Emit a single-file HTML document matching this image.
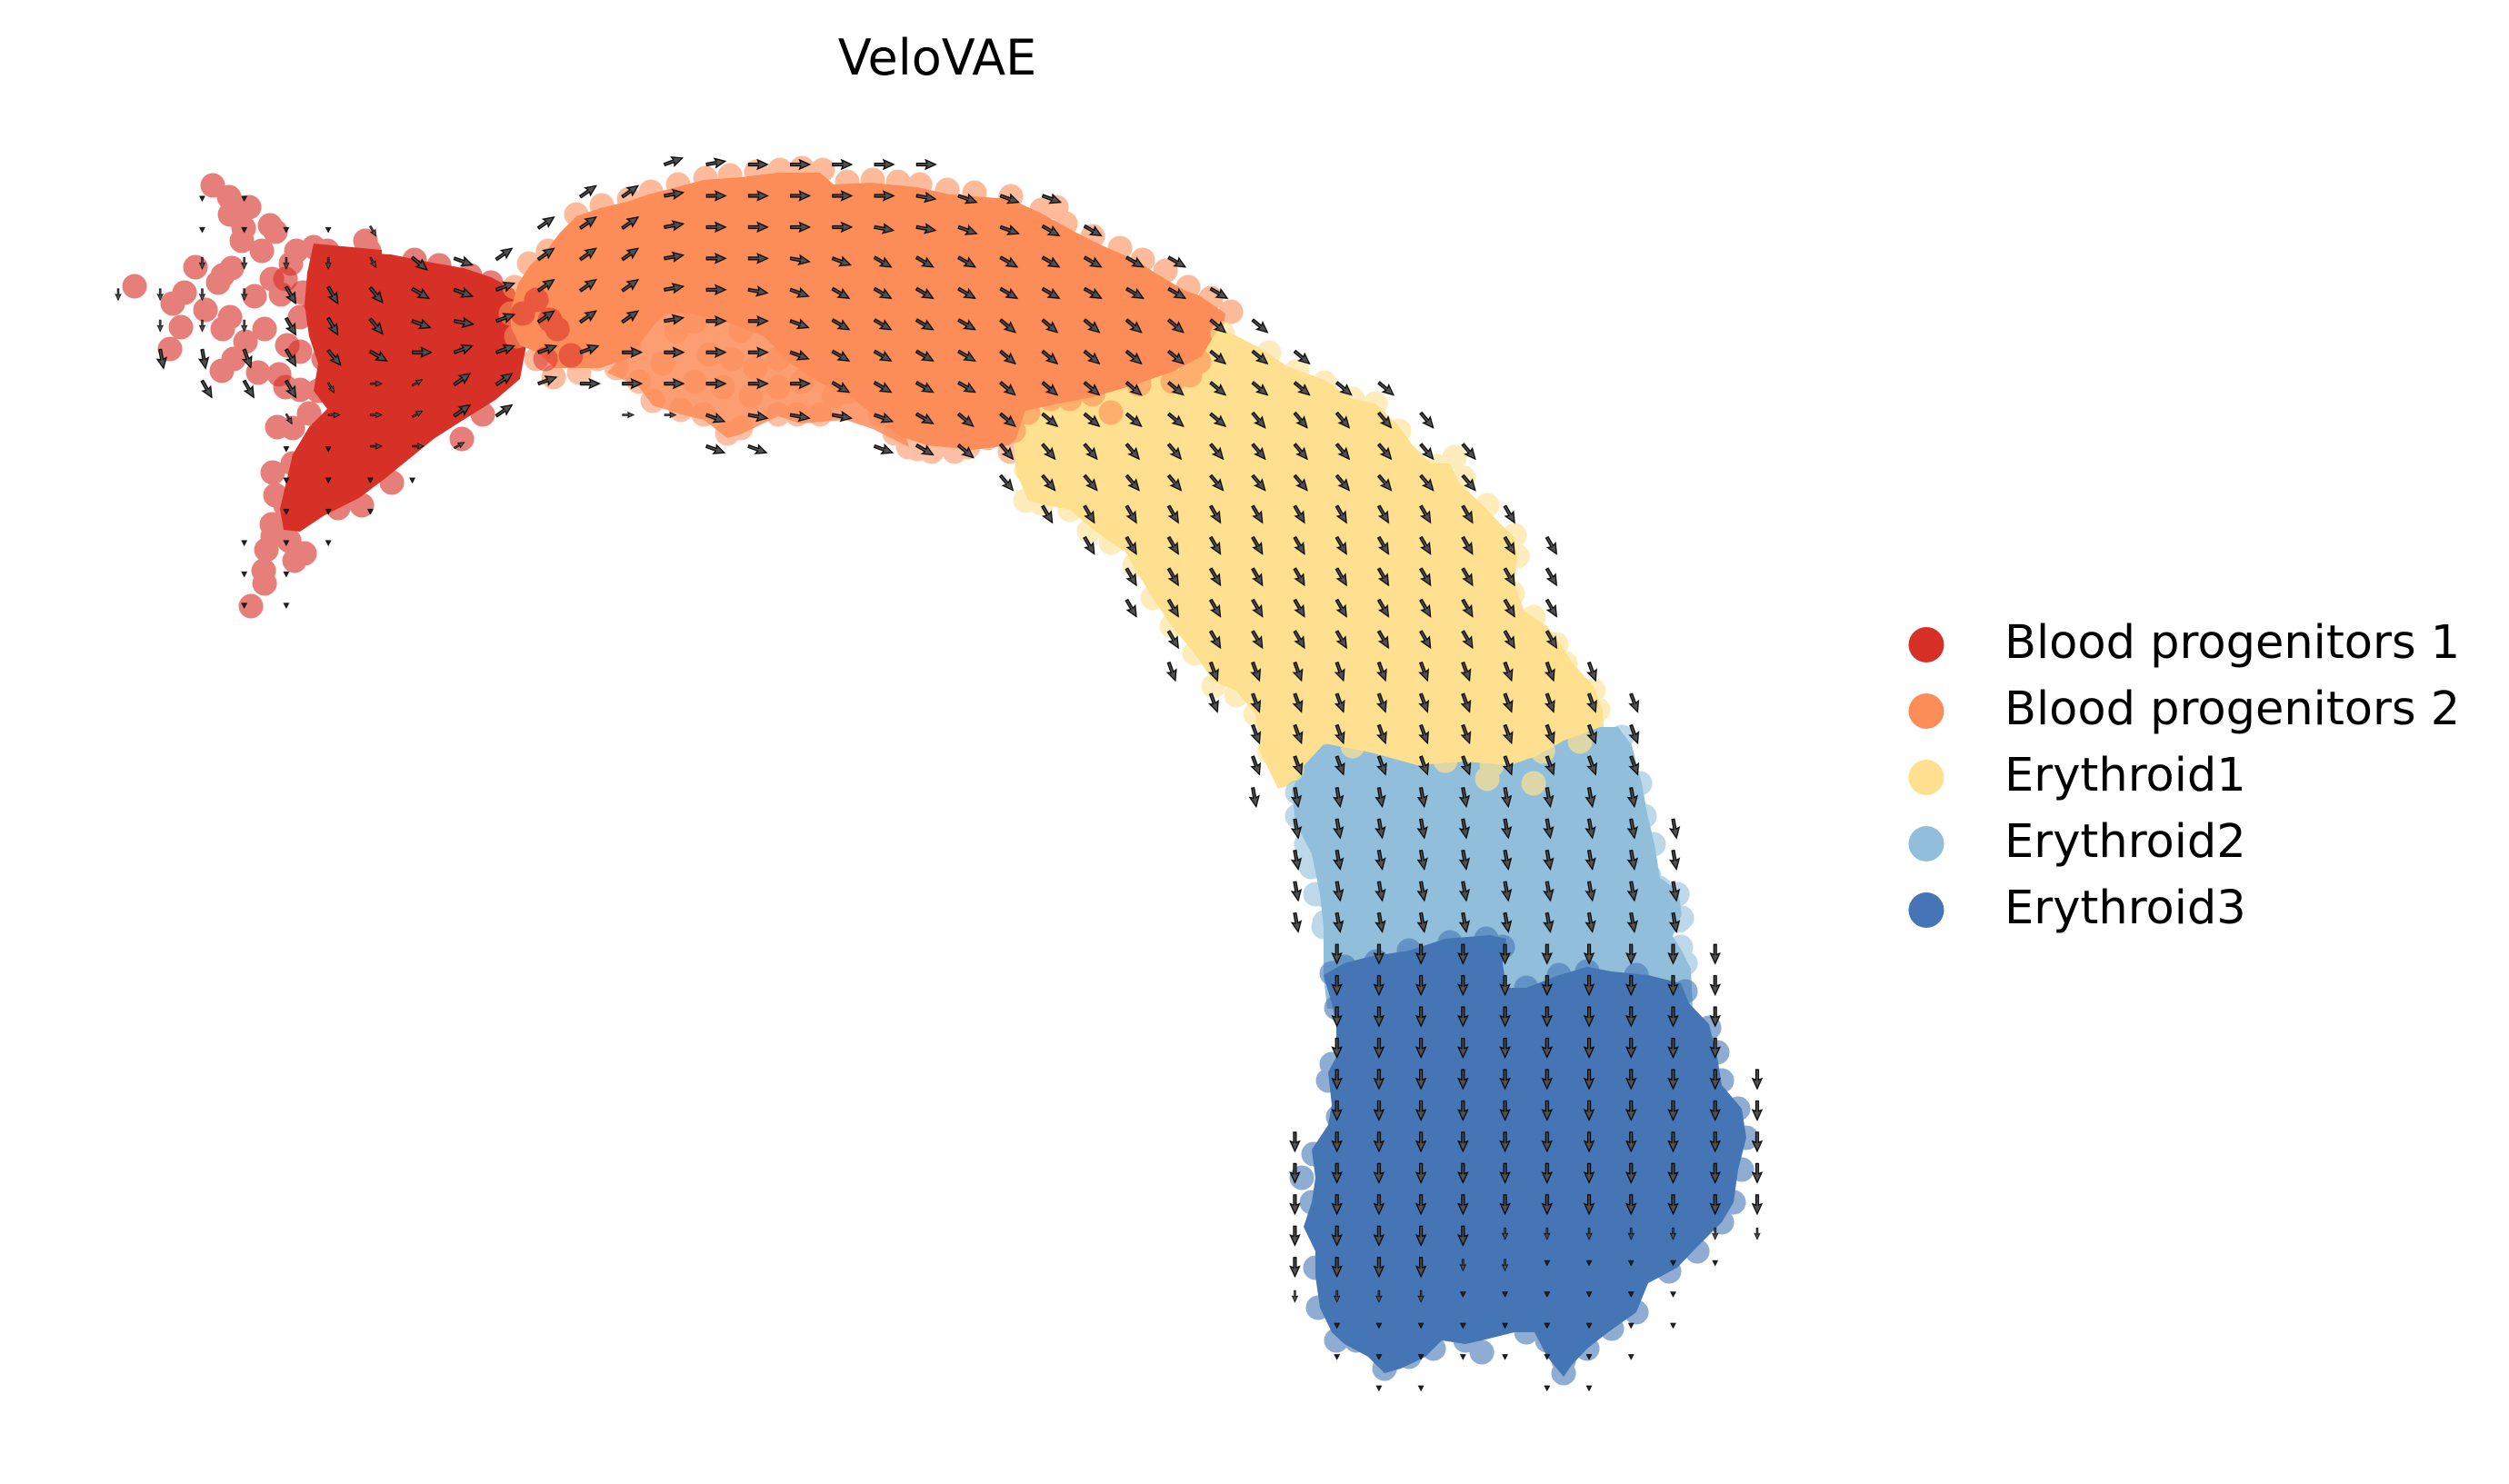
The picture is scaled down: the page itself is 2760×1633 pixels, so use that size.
<!DOCTYPE html>
<html><head><meta charset="utf-8"><style>html,body{margin:0;padding:0;background:#fff}svg{display:block}</style></head>
<body>
<svg width="2760" height="1633" viewBox="0 0 2760 1633" xmlns="http://www.w3.org/2000/svg">
<defs>
<path id="A" d="M0,-1.45H11.2L9.8,-5.1L21,0L9.8,5.1L11.2,1.45H0Z" fill="#505050" stroke="#000" stroke-width="1.2"/>
<path id="T" d="M-1.6,-2.8L3.8,0L-1.6,2.8Z" fill="#222" stroke="#000" stroke-width="0.7"/>
<pattern id="m35" width="1" height="1" patternUnits="userSpaceOnUse"><g transform="scale(0.021631,0.029028) translate(14,14) rotate(-35)"><use href="#A"/></g></pattern>
<pattern id="m20" width="1" height="1" patternUnits="userSpaceOnUse"><g transform="scale(0.021631,0.029028) translate(14,13) rotate(-20)"><use href="#A"/></g></pattern>
<pattern id="m10" width="1" height="1" patternUnits="userSpaceOnUse"><g transform="scale(0.021631,0.029028) translate(14,13) rotate(-10)"><use href="#A"/></g></pattern>
<pattern id="p0" width="1" height="1" patternUnits="userSpaceOnUse"><g transform="scale(0.021631,0.029028) translate(14,13)"><use href="#A"/></g></pattern>
<pattern id="p10" width="1" height="1" patternUnits="userSpaceOnUse"><g transform="scale(0.021631,0.029028) translate(14,13) rotate(10)"><use href="#A"/></g></pattern>
<pattern id="p20" width="1" height="1" patternUnits="userSpaceOnUse"><g transform="scale(0.021631,0.029028) translate(14,13) rotate(20)"><use href="#A"/></g></pattern>
<pattern id="p30" width="1" height="1" patternUnits="userSpaceOnUse"><g transform="scale(0.021631,0.029028) translate(14,12) rotate(30)"><use href="#A"/></g></pattern>
<pattern id="p40" width="1" height="1" patternUnits="userSpaceOnUse"><g transform="scale(0.021631,0.029028) translate(14,12) rotate(40)"><use href="#A"/></g></pattern>
<pattern id="p50" width="1" height="1" patternUnits="userSpaceOnUse"><g transform="scale(0.021631,0.029028) translate(14,11) rotate(50)"><use href="#A"/></g></pattern>
<pattern id="p60" width="1" height="1" patternUnits="userSpaceOnUse"><g transform="scale(0.021631,0.029028) translate(14,10) rotate(60)"><use href="#A"/></g></pattern>
<pattern id="p70" width="1" height="1" patternUnits="userSpaceOnUse"><g transform="scale(0.021631,0.029028) translate(14,10) rotate(70)"><use href="#A"/></g></pattern>
<pattern id="p80" width="1" height="1" patternUnits="userSpaceOnUse"><g transform="scale(0.021631,0.029028) translate(14,10) rotate(80)"><use href="#A"/></g></pattern>
<pattern id="p90" width="1" height="1" patternUnits="userSpaceOnUse"><g transform="scale(0.021631,0.029028) translate(14,10) rotate(90)"><use href="#A"/></g></pattern>
<pattern id="s90" width="1" height="1" patternUnits="userSpaceOnUse"><g transform="scale(0.021631,0.029028) translate(14,12) rotate(90) scale(0.6)"><use href="#A"/></g></pattern>
<pattern id="s60" width="1" height="1" patternUnits="userSpaceOnUse"><g transform="scale(0.021631,0.029028) translate(14,12) rotate(60) scale(0.6)"><use href="#A"/></g></pattern>
<pattern id="sm30" width="1" height="1" patternUnits="userSpaceOnUse"><g transform="scale(0.021631,0.029028) translate(14,15) rotate(-30) scale(0.6)"><use href="#A"/></g></pattern>
<pattern id="s0" width="1" height="1" patternUnits="userSpaceOnUse"><g transform="scale(0.021631,0.029028) translate(14,13) scale(0.6)"><use href="#A"/></g></pattern>
<pattern id="tt" width="1" height="1" patternUnits="userSpaceOnUse"><g transform="scale(0.021631,0.029028) translate(14,15) rotate(90)"><use href="#T"/></g></pattern>
</defs>
<rect width="2760" height="1633" fill="#fff"/>

<!-- Blood progenitors 1 -->
<polygon points="345,268 420,275 420,450 360,450 345,430 350,400 340,370 335,335 338,300" fill="#d73027"/>
<polygon points="395,278 430,280 470,288 510,295 540,305 565,318 578,345 578,385 572,417 545,440 505,465 477,483 450,505 423,527 395,548 357,567 330,585 312,583 308,560 315,530 322,500 340,470 360,450 385,440 390,400 393,360 393,330 385,305" fill="#d73027"/>
<path d="M234 204h.1M252 217h.1M274 228h.1M253 236h.1M268 251h.1M297 248h.1M303 255h.1M266 265h.1M288 276h.1M215 294h.1M148 315h.1M203 322h.1M190 334h.1M199 360h.1M187 384h.1M245 303h.1M255 295h.1M240 311h.1M226 341h.1M253 349h.1M245 362h.1M280 326h.1M270 376h.1M291 362h.1M257 395h.1M244 408h.1M284 410h.1M307 412h.1M316 380h.1M330 349h.1M314 307h.1M360 283h.1M378 296h.1M352 305h.1M368 318h.1M382 335h.1" fill="none" stroke="#d73027" stroke-opacity=".62" stroke-width="27" stroke-linecap="round"/>
<path d="M299 307h.1M309 324h.1M326 276h.1M320 290h.1M345 272h.1M360 276h.1M353 297h.1M383 301h.1M377 339h.1M345 330h.1M333 322h.1M372 387h.1M360 420h.1M330 429h.1M322 471h.1M330 387h.1M314 426h.1M531 456h.1M508 483h.1M431 531h.1M398 556h.1M372 559h.1M299 577h.1M309 582h.1M293 605h.1M290 628h.1M291 642h.1M324 617h.1M335 609h.1M276 667h.1M314 556h.1M322 510h.1M517 303h.1M540 311h.1M483 292h.1M456 286h.1M406 276h.1M402 265h.1M356 395h.1M350 430h.1M340 455h.1M305 470h.1M300 520h.1M303 545h.1M318 595h.1M300 590h.1" fill="none" stroke="#d73027" stroke-opacity=".62" stroke-width="27" stroke-linecap="round"/>

<!-- Blood progenitors 2 -->
<polygon points="562,340 570,312 583,292 601,276 616,256 634,238 660,229 690,222 713,214 744,206 774,198 815,195 856,190 902,190 917,203 958,201 1009,206 1045,214 1111,219 1144,234 1182,255 1212,270 1253,288 1270,300 1304,320 1319,325 1348,345 1345,368 1330,390 1300,412 1260,428 1210,442 1165,458 1130,472 1110,490 1070,495 1020,490 990,480 965,460 940,440 900,420 870,400 840,370 800,355 760,345 730,345 710,370 690,395 660,405 630,405 610,405 592,388 572,380 562,360" fill="#fc8d59"/>
<polygon points="700,345 760,342 830,355 880,385 930,415 965,445 995,475 1000,492 960,472 930,462 880,466 856,458 815,478 800,482 774,462 749,456 718,446 703,426 668,410 690,385" fill="#fc8d59" fill-opacity=".85"/>
<path d="M634 236h.1M662 226h.1M692 219h.1M716 211h.1M746 203h.1M776 196h.1M803 193h.1M832 189h.1M858 187h.1M882 185h.1M905 187h.1M932 200h.1M960 198h.1M988 200h.1M1012 203h.1M1042 209h.1M1072 212h.1M1112 216h.1M1146 231h.1M1172 246h.1M1202 260h.1M1232 273h.1M1257 286h.1M1282 298h.1M1307 316h.1M1332 328h.1M1354 343h.1M1162 228h.1M566 316h.1M562 345h.1M568 370h.1M582 290h.1M603 276h.1M609 415h.1M590 395h.1" fill="none" stroke="#fc8d59" stroke-opacity=".6" stroke-width="27" stroke-linecap="round"/>
<path d="M723 339h.1M744 364h.1M764 354h.1M790 344h.1M815 364h.1M836 344h.1M856 364h.1M877 380h.1M780 390h.1M805 395h.1M831 405h.1M856 395h.1M764 420h.1M795 426h.1M826 436h.1M856 426h.1M882 420h.1M907 405h.1M917 436h.1M902 456h.1M877 456h.1M856 456h.1M815 471h.1M800 477h.1M774 456h.1M749 451h.1M718 441h.1M703 420h.1M678 405h.1M729 400h.1M693 380h.1M657 395h.1M637 410h.1M933 431h.1M958 436h.1M968 456h.1M984 477h.1M999 492h.1M1025 497h.1M1050 497h.1M1065 492h.1M1086 482h.1M1111 497h.1M1132 482h.1M1142 466h.1M1009 494h.1M1040 489h.1" fill="none" stroke="#fc8d59" stroke-opacity=".55" stroke-width="27" stroke-linecap="round"/>
<path d="M590 330h.1M605 352h.1M613 362h.1M628 391h.1M600 395h.1M575 345h.1" fill="none" stroke="#d73027" stroke-opacity=".55" stroke-width="27" stroke-linecap="round"/>

<!-- Erythroid1 -->
<polygon points="1345,362 1386,383 1416,403 1457,418 1488,439 1513,444 1539,469 1554,490 1574,510 1595,510 1605,531 1631,556 1651,577 1666,592 1669,612 1666,643 1677,673 1702,689 1717,709 1730,730 1753,755 1763,781 1765,815 1712,828 1687,845 1661,855 1610,850 1559,855 1508,840 1457,830 1432,855 1416,865 1406,868 1386,827 1381,786 1360,760 1335,750 1314,719 1289,689 1268,658 1253,633 1238,607 1222,597 1202,582 1177,561 1151,556 1131,551 1118,520 1115,490 1128,452 1160,445 1202,437 1253,422 1292,408 1322,392 1338,365" fill="#fee090"/>
<path d="M1131 418h.1M1156 439h.1M1177 439h.1M1222 454h.1M1202 434h.1M1253 423h.1M1309 413h.1M1319 398h.1M1131 454h.1M1115 474h.1M1290 420h.1" fill="none" stroke="#fc8d59" stroke-opacity=".6" stroke-width="27" stroke-linecap="round"/>
<path d="M1345 367h.1M1396 388h.1M1427 408h.1M1457 421h.1M1488 439h.1M1513 444h.1M1539 474h.1M1580 513h.1M1600 503h.1M1610 526h.1M1636 556h.1M1666 589h.1M1669 612h.1M1664 653h.1M1687 679h.1M1712 709h.1M1722 730h.1M1753 760h.1M1758 781h.1M1131 515h.1M1128 551h.1M1146 554h.1M1177 561h.1M1207 577h.1M1222 597h.1M1248 622h.1M1268 658h.1M1289 689h.1M1314 719h.1M1335 755h.1M1360 765h.1M1381 786h.1M1396 827h.1M1416 850h.1M1129 517h.1M1144 553h.1M1198 584h.1" fill="none" stroke="#fee090" stroke-opacity=".6" stroke-width="27" stroke-linecap="round"/>

<!-- Erythroid2 -->
<polygon points="1421,870 1432,845 1457,818 1508,828 1559,842 1610,838 1661,842 1690,832 1720,815 1760,800 1780,800 1795,820 1806,862 1812,895 1820,929 1826,966 1846,980 1850,1006 1840,1030 1850,1046 1860,1066 1862,1110 1460,1110 1456,1073 1456,1020 1452,984 1443,940 1425,905" fill="#91bfdb"/>
<path d="M1457 806h.1M1488 821h.1M1534 816h.1M1590 837h.1M1641 842h.1M1687 862h.1M1697 827h.1M1738 816h.1M1421 847h.1M1636 857h.1M1560 828h.1" fill="none" stroke="#fee090" stroke-opacity=".7" stroke-width="27" stroke-linecap="round"/>
<path d="M1784 811h.1M1804 862h.1M1809 898h.1M1819 929h.1M1814 964h.1M1840 985h.1M1850 1010h.1M1427 872h.1M1427 898h.1M1437 929h.1M1442 954h.1M1457 985h.1M1457 1015h.1M1854 1060h.1M1849 1042h.1M1825 977h.1M1845 984h.1M1847 1013h.1M1441 946h.1M1447 984h.1M1456 1020h.1M1488 1042h.1" fill="none" stroke="#91bfdb" stroke-opacity=".6" stroke-width="27" stroke-linecap="round"/>

<!-- Erythroid3 -->
<polygon points="1456,1073 1479,1060 1505,1053 1550,1046 1590,1033 1639,1029 1657,1033 1653,1060 1657,1087 1679,1087 1715,1073 1746,1064 1773,1069 1813,1073 1849,1082 1858,1104 1880,1127 1889,1163 1894,1194 1916,1220 1921,1252 1912,1287 1907,1323 1894,1345 1867,1372 1845,1395 1813,1412 1800,1444 1769,1466 1746,1484 1729,1502 1720,1515 1702,1493 1688,1466 1666,1466 1630,1475 1612,1479 1586,1475 1568,1493 1541,1506 1523,1511 1505,1493 1479,1479 1465,1466 1452,1439 1447,1404 1447,1377 1434,1350 1443,1323 1447,1296 1443,1265 1461,1238 1465,1216 1461,1180 1470,1163 1470,1127 1465,1104" fill="#4575b4"/>
<path d="M1465 1071h.1M1470 1109h.1M1465 1171h.1M1461 1189h.1M1472 1229h.1M1445 1270h.1M1432 1296h.1M1443 1323h.1M1452 1354h.1M1447 1395h.1M1450 1439h.1M1470 1475h.1M1492 1475h.1M1523 1506h.1M1550 1493h.1M1577 1484h.1M1612 1475h.1M1630 1488h.1M1630 1457h.1M1657 1453h.1M1679 1466h.1M1693 1448h.1M1702 1475h.1M1720 1497h.1M1720 1511h.1M1746 1484h.1M1773 1462h.1M1800 1444h.1M1836 1399h.1M1867 1377h.1M1894 1345h.1M1907 1323h.1M1916 1287h.1M1921 1252h.1M1912 1220h.1M1894 1189h.1M1889 1158h.1M1880 1131h.1M1854 1091h.1M1800 1073h.1M1746 1069h.1M1715 1073h.1M1679 1087h.1M1653 1042h.1M1635 1033h.1M1595 1037h.1M1550 1046h.1M1514 1058h.1M1479 1064h.1" fill="none" stroke="#4575b4" stroke-opacity=".6" stroke-width="27" stroke-linecap="round"/>

<!-- velocity arrows -->
<g transform="translate(116,168) scale(46.23,34.45)">
<g fill="url(#m35)"><rect x="11" y="1" width="2" height="1"/><rect x="10" y="2" width="3" height="1"/><rect x="9" y="3" width="4" height="1"/><rect x="10" y="4" width="3" height="1"/><rect x="10" y="5" width="3" height="1"/><rect x="8" y="7" width="2" height="1"/><rect x="8" y="8" width="2" height="1"/></g>
<g fill="url(#m20)"><rect x="13" y="0" width="1" height="1"/><rect x="9" y="4" width="1" height="1"/><rect x="9" y="5" width="1" height="1"/><rect x="8" y="6" width="4" height="1"/><rect x="10" y="7" width="1" height="1"/></g>
<g fill="url(#m10)"><rect x="14" y="0" width="1" height="1"/><rect x="13" y="1" width="1" height="1"/><rect x="13" y="2" width="1" height="1"/><rect x="13" y="3" width="1" height="1"/><rect x="13" y="4" width="1" height="1"/><rect x="13" y="5" width="1" height="1"/></g>
<g fill="url(#p0)"><rect x="15" y="0" width="5" height="1"/><rect x="14" y="1" width="5" height="1"/><rect x="14" y="2" width="4" height="1"/><rect x="14" y="3" width="2" height="1"/><rect x="14" y="4" width="1" height="1"/><rect x="14" y="5" width="2" height="1"/><rect x="7" y="6" width="1" height="1"/><rect x="12" y="6" width="4" height="1"/><rect x="11" y="7" width="6" height="1"/></g>
<g fill="url(#p10)"><rect x="19" y="1" width="1" height="1"/><rect x="18" y="2" width="2" height="1"/><rect x="16" y="3" width="1" height="1"/><rect x="15" y="4" width="1" height="1"/><rect x="8" y="5" width="1" height="1"/><rect x="15" y="8" width="3" height="1"/></g>
<g fill="url(#p20)"><rect x="20" y="1" width="3" height="1"/><rect x="20" y="2" width="2" height="1"/><rect x="8" y="3" width="1" height="1"/><rect x="17" y="3" width="1" height="1"/><rect x="8" y="4" width="1" height="1"/><rect x="16" y="4" width="1" height="1"/><rect x="7" y="5" width="1" height="1"/><rect x="16" y="5" width="1" height="1"/><rect x="16" y="6" width="1" height="1"/><rect x="14" y="8" width="1" height="1"/><rect x="18" y="8" width="1" height="1"/><rect x="14" y="9" width="2" height="1"/><rect x="18" y="9" width="1" height="1"/></g>
<g fill="url(#p30)"><rect x="22" y="2" width="2" height="1"/><rect x="18" y="3" width="8" height="1"/><rect x="7" y="4" width="1" height="1"/><rect x="17" y="4" width="10" height="1"/><rect x="17" y="5" width="4" height="1"/><rect x="6" y="6" width="1" height="1"/><rect x="17" y="6" width="4" height="1"/><rect x="17" y="7" width="4" height="1"/><rect x="19" y="8" width="1" height="1"/><rect x="19" y="9" width="1" height="1"/></g>
<g fill="url(#p40)"><rect x="7" y="3" width="1" height="1"/><rect x="21" y="5" width="7" height="1"/><rect x="21" y="6" width="8" height="1"/><rect x="21" y="7" width="10" height="1"/><rect x="20" y="8" width="7" height="1"/><rect x="20" y="9" width="1" height="1"/></g>
<g fill="url(#p50)"><rect x="6" y="4" width="1" height="1"/><rect x="6" y="5" width="1" height="1"/><rect x="5" y="6" width="1" height="1"/><rect x="27" y="8" width="5" height="1"/><rect x="21" y="9" width="12" height="1"/><rect x="21" y="10" width="12" height="1"/></g>
<g fill="url(#p60)"><rect x="4" y="4" width="2" height="1"/><rect x="4" y="5" width="2" height="1"/><rect x="4" y="6" width="1" height="1"/><rect x="2" y="7" width="3" height="1"/><rect x="22" y="11" width="12" height="1"/><rect x="23" y="12" width="12" height="1"/><rect x="24" y="13" width="11" height="1"/><rect x="24" y="14" width="11" height="1"/><rect x="25" y="15" width="10" height="1"/></g>
<g fill="url(#p70)"><rect x="3" y="6" width="1" height="1"/><rect x="25" y="16" width="11" height="1"/><rect x="26" y="17" width="11" height="1"/><rect x="27" y="18" width="10" height="1"/><rect x="27" y="19" width="10" height="1"/></g>
<g fill="url(#p80)"><rect x="1" y="6" width="2" height="1"/><rect x="27" y="20" width="10" height="1"/><rect x="28" y="21" width="10" height="1"/><rect x="28" y="22" width="10" height="1"/><rect x="28" y="23" width="10" height="1"/><rect x="28" y="24" width="10" height="1"/></g>
<g fill="url(#p90)"><rect x="29" y="25" width="10" height="1"/><rect x="29" y="26" width="10" height="1"/><rect x="29" y="27" width="10" height="1"/><rect x="29" y="28" width="10" height="1"/><rect x="29" y="29" width="11" height="1"/><rect x="29" y="30" width="11" height="1"/><rect x="28" y="31" width="12" height="1"/><rect x="28" y="32" width="12" height="1"/><rect x="28" y="33" width="12" height="1"/><rect x="28" y="34" width="5" height="1"/><rect x="28" y="35" width="4" height="1"/></g>
<g fill="url(#s90)"><rect x="2" y="3" width="4" height="1"/><rect x="0" y="4" width="4" height="1"/><rect x="1" y="5" width="3" height="1"/><rect x="33" y="34" width="7" height="1"/><rect x="32" y="35" width="2" height="1"/><rect x="28" y="36" width="4" height="1"/></g>
<g fill="url(#s60)"><rect x="6" y="2" width="1" height="1"/><rect x="6" y="3" width="1" height="1"/><rect x="5" y="7" width="1" height="1"/><rect x="4" y="8" width="1" height="1"/></g>
<g fill="url(#sm30)"><rect x="7" y="7" width="1" height="1"/><rect x="7" y="8" width="1" height="1"/><rect x="8" y="9" width="1" height="1"/></g>
<g fill="url(#s0)"><rect x="6" y="7" width="1" height="1"/><rect x="5" y="8" width="2" height="1"/><rect x="12" y="8" width="2" height="1"/><rect x="6" y="9" width="2" height="1"/></g>
<g fill="url(#tt)"><rect x="2" y="1" width="2" height="1"/><rect x="2" y="2" width="4" height="1"/><rect x="4" y="9" width="2" height="1"/><rect x="4" y="10" width="4" height="1"/><rect x="4" y="11" width="3" height="1"/><rect x="3" y="12" width="3" height="1"/><rect x="3" y="13" width="2" height="1"/><rect x="3" y="14" width="2" height="1"/><rect x="34" y="35" width="5" height="1"/><rect x="32" y="36" width="6" height="1"/><rect x="29" y="37" width="9" height="1"/><rect x="29" y="38" width="8" height="1"/><rect x="30" y="39" width="2" height="1"/><rect x="34" y="39" width="2" height="1"/></g>
</g>

<!-- title -->
<text x="1031" y="82" font-family="DejaVu Sans, Liberation Sans, sans-serif" font-size="54" text-anchor="middle" fill="#000">VeloVAE</text>

<!-- legend -->
<g font-family="DejaVu Sans, Liberation Sans, sans-serif" font-size="51" fill="#000">
<circle cx="2119" cy="709.5" r="19.5" fill="#d73027"/>
<circle cx="2119" cy="782.5" r="19.5" fill="#fc8d59"/>
<circle cx="2119" cy="855.5" r="19.5" fill="#fee090"/>
<circle cx="2119" cy="928.5" r="19.5" fill="#91bfdb"/>
<circle cx="2119" cy="1001.5" r="19.5" fill="#4575b4"/>
<text x="2205" y="724">Blood progenitors 1</text>
<text x="2205" y="797">Blood progenitors 2</text>
<text x="2205" y="870">Erythroid1</text>
<text x="2205" y="943">Erythroid2</text>
<text x="2205" y="1016">Erythroid3</text>
</g>
</svg>
</body></html>
